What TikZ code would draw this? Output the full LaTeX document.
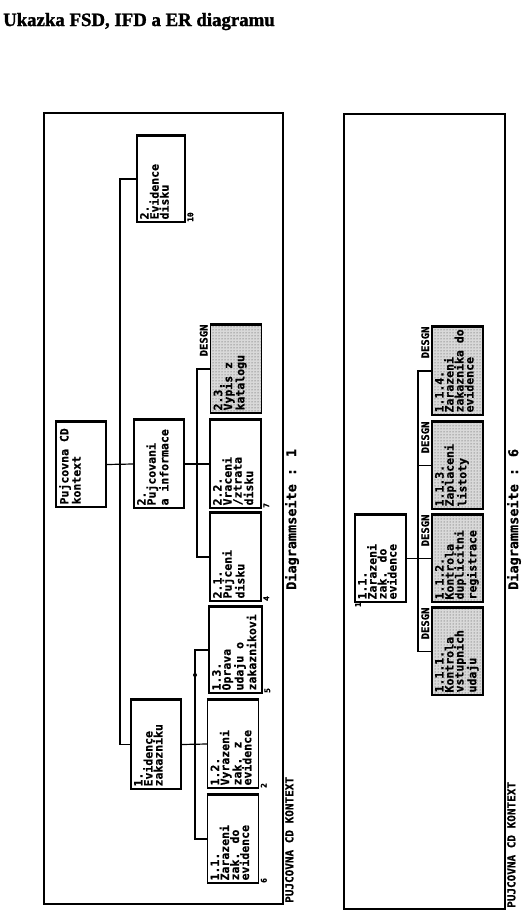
\documentclass[tikz,border=0pt]{standalone}
\usepackage{fontspec}
\setmainfont{Liberation Serif}
\newfontfamily\titlefont{Liberation Serif}[FakeBold=1.5]
\newfontfamily\boxfont{DejaVu Sans Mono}[FakeBold=0.6]
\usetikzlibrary{patterns}
\begin{document}
\begin{tikzpicture}[x=1pt,y=-1pt,
  box/.style={draw, line width=1.2pt, rectangle, inner sep=0pt, fill=white},
  shaded/.style={box, preaction={fill=black!15}, pattern=dots, pattern color=black!75},
  frame/.style={draw, line width=1.4pt},
  txt/.style={rotate=90, anchor=north west, font=\boxfont\bfseries\fontsize{11.5}{10}\selectfont, align=left, inner sep=1pt},
  lbl/.style={rotate=90, anchor=north west, font=\boxfont\bfseries\fontsize{11}{11}\selectfont, inner sep=1pt},
  pmark/.style={rotate=90, anchor=north west, font=\boxfont\bfseries\fontsize{8}{8}\selectfont, inner sep=0.5pt},
  dsg/.style={rotate=90, anchor=south east, font=\boxfont\bfseries\fontsize{10.5}{10.5}\selectfont, inner sep=1pt},
  conn/.style={line width=1.2pt},
  topedge/.style={line width=2.4pt}
]
\useasboundingbox (0,0) rectangle (529,921);
\fill[white] (0,0) rectangle (529,921);

% title
\node[anchor=base west, inner sep=0pt, font=\titlefont\bfseries\fontsize{18.8}{18.8}\selectfont] (title) at (3,26) {Ukazka FSD, IFD a ER diagramu};

% frames
\draw[frame] (44,113) rectangle (283,904);
\draw[frame] (344,114) rectangle (505,909);

% ---- left panel boxes
\node[box, minimum width=48, minimum height=86] (disk) at (161,179) {};
\node[box, minimum width=50, minimum height=85] (root) at (81,464.5) {};
\node[box, minimum width=50, minimum height=88] (b2) at (159,464) {};
\node[box, minimum width=50, minimum height=89] (b1) at (156,744.5) {};
\node[shaded, minimum width=51, minimum height=88] (b23) at (236,369) {};
\node[box, minimum width=51, minimum height=88] (b22) at (235.5,464) {};
\node[box, minimum width=51, minimum height=88] (b21) at (235.5,557) {};
\node[box, minimum width=53, minimum height=86] (b13) at (235.5,650) {};
\node[box, minimum width=51, minimum height=88] (b12) at (233,744) {};
\node[box, minimum width=51, minimum height=88] (b11) at (233,839) {};

% ---- right panel boxes
\node[box, minimum width=51, minimum height=87] (p11) at (380.5,558.5) {};
\node[shaded, minimum width=51, minimum height=88] (c4) at (457.5,371) {};
\node[shaded, minimum width=51, minimum height=87] (c3) at (457.5,465.5) {};
\node[shaded, minimum width=51, minimum height=87] (c2) at (457.5,558.5) {};
\node[shaded, minimum width=51, minimum height=87] (c1) at (457.5,651.5) {};

\foreach \n in {disk,root,b2,b1,b23,b22,b21,b13,b12,b11,p11,c4,c3,c2,c1}
  \draw[topedge] (\n.north west) -- (\n.north east);

% ---- texts
\node[txt] at ([xshift=2.5pt,yshift=2pt]disk.south west) {2.\\Evidence\\disku};
\node[txt] at ([xshift=2.5pt,yshift=2pt]root.south west) {Pujcovna CD\\kontext};
\node[txt] at ([xshift=2.5pt,yshift=2pt]b2.south west) {2.\\Pujcovani\\a informace};
\node[txt] at ([xshift=2.5pt,yshift=2pt]b1.south west) {1.\\Evidence\\zakazniku};
\node[txt] at ([xshift=2.5pt,yshift=2pt]b23.south west) {2.3.\\Vypis z\\katalogu};
\node[txt] at ([xshift=2.5pt,yshift=2pt]b22.south west) {2.2.\\Vraceni\\/ztrata\\disku};
\node[txt] at ([xshift=2.5pt,yshift=2pt]b21.south west) {2.1.\\Pujceni\\disku};
\node[txt] at ([xshift=2.5pt,yshift=2pt]b13.south west) {1.3.\\Oprava\\udaju o\\zakaznikovi};
\node[txt] at ([xshift=2.5pt,yshift=2pt]b12.south west) {1.2.\\Vyrazeni\\zak. z\\evidence};
\node[txt] at ([xshift=2.5pt,yshift=2pt]b11.south west) {1.1.\\Zarazeni\\zak. do\\evidence};

\node[txt] at ([xshift=2.5pt,yshift=2pt]p11.south west) {1.1.\\Zarazeni\\zak. do\\evidence};
\node[txt] at ([xshift=2.5pt,yshift=2pt]c4.south west) {1.1.4.\\Zarazeni\\zakaznika do\\evidence};
\node[txt] at ([xshift=2.5pt,yshift=2pt]c3.south west) {1.1.3.\\Zaplaceni\\listoty};
\node[txt] at ([xshift=2.5pt,yshift=2pt]c2.south west) {1.1.2.\\Kontrola\\duplicitni\\registrace};
\node[txt] at ([xshift=2.5pt,yshift=2pt]c1.south west) {1.1.1.\\Kontrola\\vstupnich\\udaju};

% DESGN labels
\node[dsg] (d23) at ([xshift=-1pt,yshift=1pt]b23.north west) {DESGN};
\node[dsg] (dc4) at ([xshift=-1pt,yshift=1pt]c4.north west) {DESGN};
\node[dsg] (dc3) at ([xshift=-1pt,yshift=1pt]c3.north west) {DESGN};
\node[dsg] (dc2) at ([xshift=-1pt,yshift=1pt]c2.north west) {DESGN};
\node[dsg] (dc1) at ([xshift=-1pt,yshift=1pt]c1.north west) {DESGN};

% small page marks
\node[pmark] (m1) at ([xshift=1pt]disk.south east) {10};
\node[pmark] (m22) at ([xshift=1pt]b22.south east) {7};
\node[pmark] (m21) at ([xshift=1pt]b21.south east) {4};
\node[pmark] (m13) at ([xshift=1pt]b13.south east) {5};
\node[pmark] (m12) at ([xshift=1pt]b12.south east) {2};
\node[pmark] (m11) at ([xshift=1pt]b11.south east) {6};
\node[pmark, anchor=north east] (m2) at ([yshift=1pt]p11.south west) {1};

% frame labels
\node[lbl, font=\boxfont\bfseries\fontsize{13.5}{13.5}\selectfont] (ds1) at (284,591) {Diagrammseite : 1};
\node[lbl] (pk1) at (284,904) {PUJCOVNA CD KONTEXT};
\node[lbl, font=\boxfont\bfseries\fontsize{13.5}{13.5}\selectfont] (ds6) at (506,591) {Diagrammseite : 6};
\node[lbl] (pk6) at (506,909) {PUJCOVNA CD KONTEXT};

% ---- connectors left panel
\coordinate (s1) at (120,0);
\coordinate (s2) at (197,0);
\coordinate (s3) at (195,0);
\draw[conn] (root.east) -- (b2.west);
\draw[conn] (disk.west) -- (disk.west -| s1) -- (b1.west -| s1) -- (b1.west);
\draw[conn] (b2.east) -- (b22.west);
\draw[conn] (b23.west) -- (b23.west -| s2) -- (b21.west -| s2) -- (b21.west);
\draw[conn] (b1.east) -- (b12.west);
\draw[conn] (b13.west) -- (b13.west -| s3) -- (b11.west -| s3) -- (b11.west);
\fill (195,675) circle (2pt);

% ---- connectors right panel
\coordinate (s4) at (418,0);
\draw[conn] (p11.east) -- (c2.west);
\draw[conn] (c4.west) -- (c4.west -| s4) -- (c1.west -| s4) -- (c1.west);
\draw[conn] (c3.west) -- (c3.west -| s4);
\end{tikzpicture}
\end{document}
